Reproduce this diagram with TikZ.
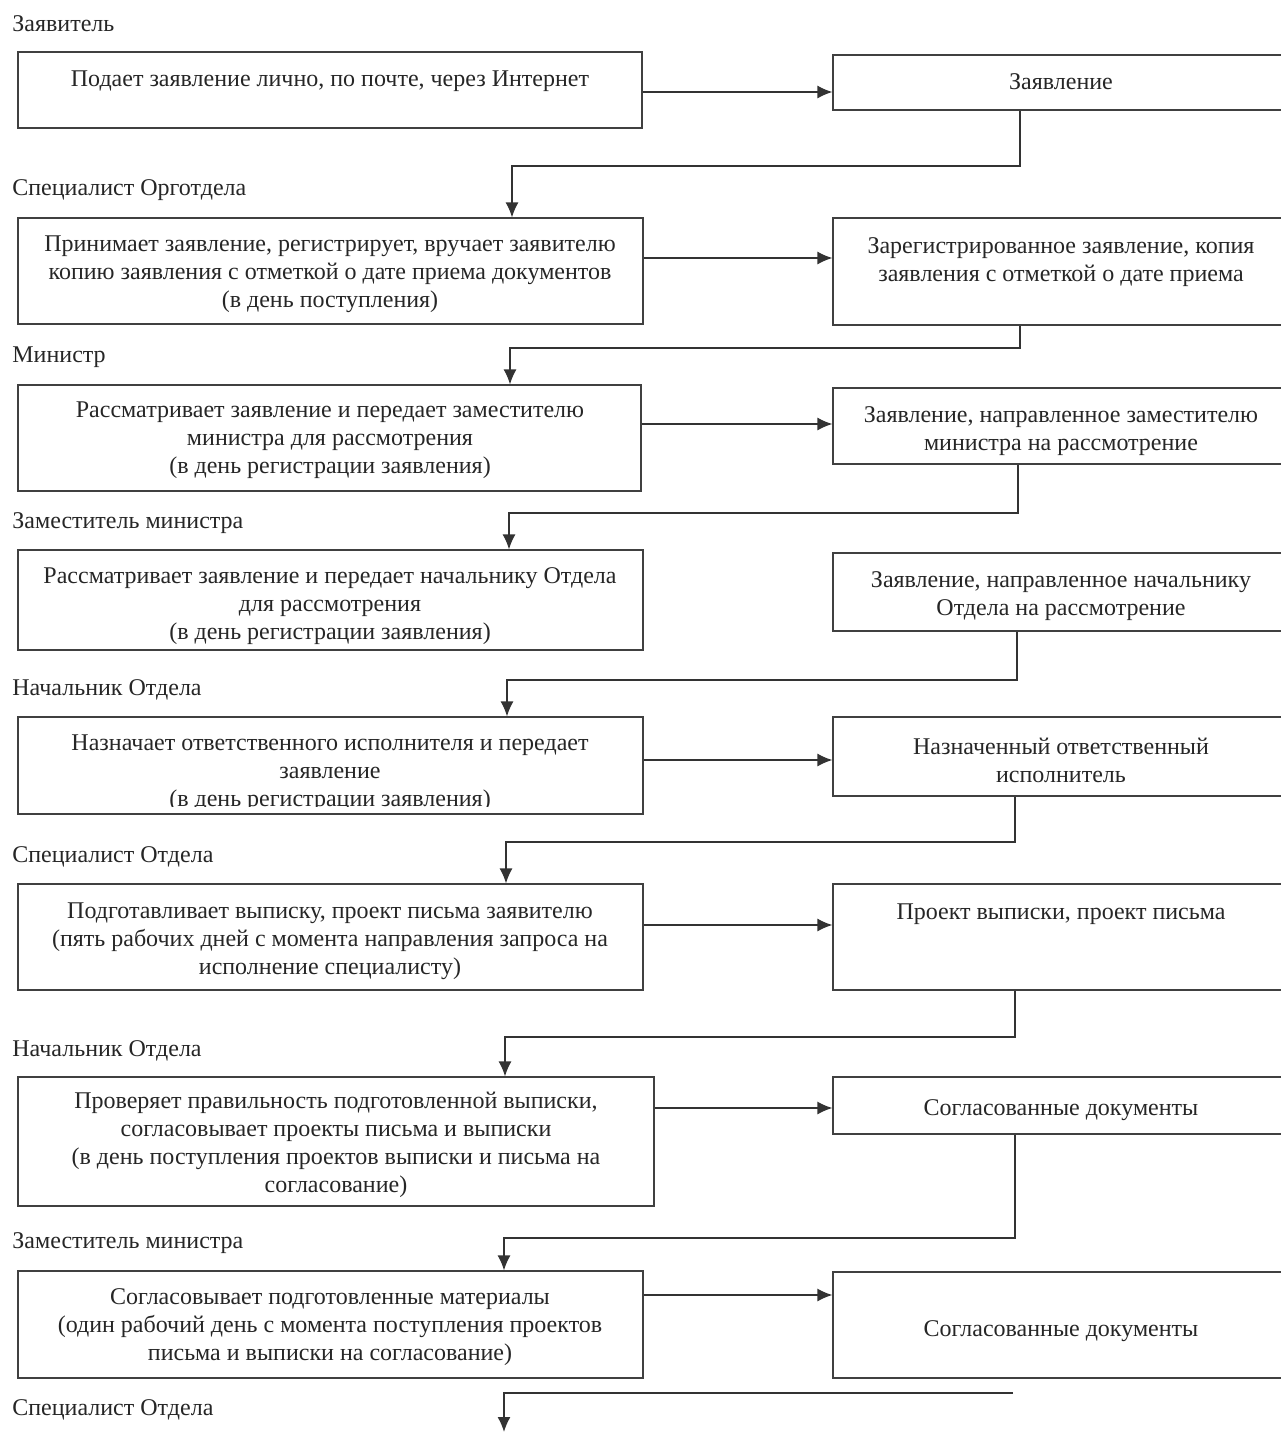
\documentclass[tikz,border=0pt]{standalone}
\usepackage{fontspec}
\setmainfont{Liberation Serif}
\usetikzlibrary{fit,arrows.meta}

\begin{document}
\begin{tikzpicture}[x=0.5pt, y=-0.5pt,
    font=\fontsize{12}{14}\selectfont,
    role/.style={anchor=west, inner sep=0pt, yshift=-1pt, text=black!85},
    box/.style={draw=black!75, line width=0.6pt, inner sep=0pt},
    txt/.style={anchor=north, align=center, inner sep=0pt, yshift=-1.5pt, text=black!85},
    arr/.style={draw=black!80, line width=0.7pt, -{Latex[length=7.5pt,width=6.5pt]}}]
    %\draw[help lines, step=100] (0, 0) grid (1281, 1432);

    \clip (0, 0) rectangle (1281, 1432);

    % roles
    \node[role] (p1) at (12, 22) {Заявитель};
    \node[role] (p2) at (12, 188) {Специалист Орготдела};
    \node[role] (p3) at (12, 355) {Министр};
    \node[role] (p4) at (12, 521) {Заместитель министра};
    \node[role] (p5) at (12, 688) {Начальник Отдела};
    \node[role] (p6) at (12, 855) {Специалист Отдела};
    \node[role] (p7) at (12, 1049) {Начальник Отдела};
    \node[role] (p8) at (12, 1241) {Заместитель министра};
    \node[role] (p9) at (12, 1408) {Специалист Отдела};

    % left boxes
    \node[box, fit={(18, 52) (642, 128)}] (l1) {};
    \node[box, fit={(18, 218) (643, 324)}] (l2) {};
    \node[box, fit={(18, 385) (641, 491)}] (l3) {};
    \node[box, fit={(18, 550) (643, 650)}] (l4) {};
    \node[box, fit={(18, 717) (643, 814)}] (l5) {};
    \node[box, fit={(18, 884) (643, 990)}] (l6) {};
    \node[box, fit={(18, 1077) (654, 1206)}] (l7) {};
    \node[box, fit={(18, 1271) (643, 1378)}] (l8) {};

    % right boxes (cut by the page edge)
    \node[box, fit={(833, 55) (1290, 110)}] (r1) {};
    \node[box, fit={(833, 218) (1290, 325)}] (r2) {};
    \node[box, fit={(833, 388) (1290, 464)}] (r3) {};
    \node[box, fit={(833, 553) (1290, 631)}] (r4) {};
    \node[box, fit={(833, 717) (1290, 796)}] (r5) {};
    \node[box, fit={(833, 884) (1290, 990)}] (r6) {};
    \node[box, fit={(833, 1077) (1290, 1134)}] (r7) {};
    \node[box, fit={(833, 1272) (1290, 1378)}] (r8) {};

    % texts
    \node[txt] (l1t) at (330, 67) {Подает заявление лично, по почте, через Интернет};
    \node[txt] (l2t) at (330, 232) {Принимает заявление, регистрирует, вручает заявителю\\копию заявления с отметкой о дате приема документов\\(в день поступления)};
    \node[txt] (l3t) at (330, 398) {Рассматривает заявление и передает заместителю\\министра для рассмотрения\\(в день регистрации заявления)};
    \node[txt] (l4t) at (330, 564) {Рассматривает заявление и передает начальнику Отдела\\для рассмотрения\\(в день регистрации заявления)};
    \begin{scope}
      \clip (18, 717) rectangle (643, 806);
      \node[txt] (l5t) at (330, 731) {Назначает ответственного исполнителя и передает\\заявление\\(в день регистрации заявления)};
    \end{scope}
    \node[txt] (l6t) at (330, 899) {Подготавливает выписку, проект письма заявителю\\(пять рабочих дней с момента направления запроса на\\исполнение специалисту)};
    \node[txt] (l7t) at (336, 1089) {Проверяет правильность подготовленной выписки,\\согласовывает проекты письма и выписки\\(в день поступления проектов выписки и письма на\\согласование)};
    \node[txt] (l8t) at (330, 1285) {Согласовывает подготовленные материалы\\(один рабочий день с момента поступления проектов\\письма и выписки на согласование)};

    \node[txt] (r1t) at (1061, 70) {Заявление};
    \node[txt] (r2t) at (1061, 234) {Зарегистрированное заявление, копия\\заявления с отметкой о дате приема};
    \node[txt] (r3t) at (1061, 403) {Заявление, направленное заместителю\\министра на рассмотрение};
    \node[txt] (r4t) at (1061, 568) {Заявление, направленное начальнику\\Отдела на рассмотрение};
    \node[txt] (r5t) at (1061, 735) {Назначенный ответственный\\исполнитель};
    \node[txt] (r6t) at (1061, 900) {Проект выписки, проект письма};
    \node[txt] (r7t) at (1061, 1096) {Согласованные документы};
    \node[txt] (r8t) at (1061, 1317) {Согласованные документы};

    % arrows to the right
    \draw[arr] (l1.east |- 0, 92) -- (r1.west |- 0, 92);
    \draw[arr] (l2.east |- 0, 258) -- (r2.west |- 0, 258);
    \draw[arr] (l3.east |- 0, 424) -- (r3.west |- 0, 424);
    \draw[arr] (l5.east |- 0, 760) -- (r5.west |- 0, 760);
    \draw[arr] (l6.east |- 0, 925) -- (r6.west |- 0, 925);
    \draw[arr] (l7.east |- 0, 1108) -- (r7.west |- 0, 1108);
    \draw[arr] (l8.east |- 0, 1295) -- (r8.west |- 0, 1295);

    % arrows down to the next step
    \draw[arr] (r1.south -| 1020, 0) |- (512, 166) -- (l2.north -| 512, 0);
    \draw[arr] (r2.south -| 1020, 0) |- (510, 348) -- (l3.north -| 510, 0);
    \draw[arr] (r3.south -| 1018, 0) |- (509, 513) -- (l4.north -| 509, 0);
    \draw[arr] (r4.south -| 1017, 0) |- (507, 680) -- (l5.north -| 507, 0);
    \draw[arr] (r5.south -| 1015, 0) |- (506, 842) -- (l6.north -| 506, 0);
    \draw[arr] (r6.south -| 1015, 0) |- (505, 1037) -- (l7.north -| 505, 0);
    \draw[arr] (r7.south -| 1015, 0) |- (504, 1238) -- (l8.north -| 504, 0);

    \coordinate (e1) at (1013, 1393);
    \coordinate (e2) at (504, 1432);
    \draw[arr] (e1) -| (e2);

\end{tikzpicture}
\end{document}
